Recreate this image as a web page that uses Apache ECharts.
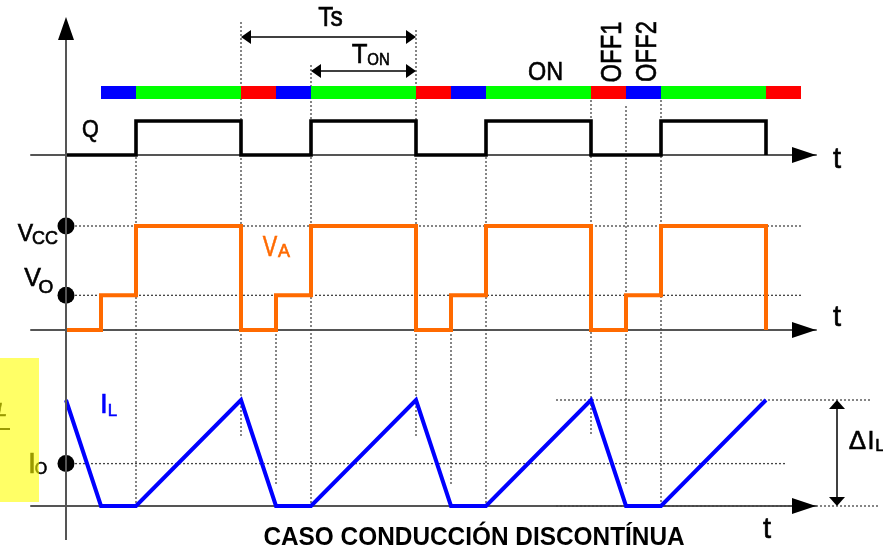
<!DOCTYPE html>
<html><head><meta charset="utf-8">
<script src="https://cdn.jsdelivr.net/npm/echarts@6/dist/echarts.min.js"></script>
<style>html,body{margin:0;padding:0;background:#fff}#c{width:883px;height:550px}</style>
</head><body><div id="c"></div>
<script>
// ---------------- data ----------------
const phaseStart = [1, 2, 5, 6, 7, 10, 11, 12, 15, 16, 17, 20];
const phaseEnd   = [2, 5, 6, 7, 10, 11, 12, 15, 16, 17, 20, 21];
const phaseState = ['OFF2','ON','OFF1','OFF2','ON','OFF1','OFF2','ON','OFF1','OFF2','ON','OFF1'];
const qTimes  = [0, 2, 5, 7, 10, 12, 15, 17, 20];
const qLevels = [0, 1, 0, 1, 0, 1, 0, 1, 0];
const vaTimes  = [0, 1, 2, 5, 6, 7, 10, 11, 12, 15, 16, 17, 20];
const vaLevels = [0, 1, 3, 0, 1, 3, 0, 1, 3, 0, 1, 3, 0];   // units of Vo (Vcc = 3)
const ilTimes  = [0, 1, 2, 5, 6, 7, 10, 11, 12, 15, 16, 17, 20];
const ilValues = [1, 0, 0, 1, 0, 0, 1, 0, 0, 1, 0, 0, 1];   // units of ΔIL
const vLevels  = [3, 1];      // Vcc, Vo
const ioLevel  = [0.4];       // Io
const tsSpan   = [5, 10];
const tonSpan  = [7, 10];
const guideTimes = [2, 5, 6, 7, 10, 11, 12, 15, 16, 17];

// ---------------- layout / style ----------------
const F = "'Liberation Sans', Arial, sans-serif";
const XMIN = -1, XMAX = 750 / 35;
const stateColor = { ON: '#00ff00', OFF1: '#ff0000', OFF2: '#0000ff' };
const guideExtent = {2:[157,506],5:[22,436],6:[330,485],7:[65,506],10:[30,436],11:[330,485],12:[157,506],15:[100,436],16:[106,485],17:[100,506]};
const GRID = (top, height) => ({ left: 31, width: 785, top, height });

const xAx = (gi, line) => ({ type: 'value', gridIndex: gi, min: XMIN, max: XMAX,
  axisLine: { show: line, onZero: false, lineStyle: { color: '#555', width: 2 } },
  axisTick: { show: false }, axisLabel: { show: false }, splitLine: { show: false } });
const yAx = (gi, max) => ({ type: 'value', gridIndex: gi, min: 0, max, show: false });
const pairs = (xs, ys) => xs.map((x, i) => [x, ys[i]]);

const chart = echarts.init(document.getElementById('c'));
chart.setOption({
  animation: false,
  grid: [GRID(86, 13), GRID(121, 34), GRID(226, 104), GRID(400, 106)],
  xAxis: [xAx(0, false), xAx(1, true), xAx(2, true), xAx(3, true)],
  yAxis: [yAx(0, 1), yAx(1, 1), yAx(2, 3), yAx(3, 1)],
  series: [
    { type: 'custom', xAxisIndex: 0, yAxisIndex: 0, clip: false,
      data: phaseStart.map((s, i) => [s, phaseEnd[i], i]),
      encode: { x: [0, 1] },
      renderItem: (params, api) => {
        const p0 = api.coord([api.value(0), 1]);
        const p1 = api.coord([api.value(1), 0]);
        return { type: 'rect', shape: { x: p0[0], y: p0[1], width: p1[0] - p0[0], height: p1[1] - p0[1] },
          style: { fill: stateColor[phaseState[api.value(2)]] } };
      } },
    { type: 'line', xAxisIndex: 1, yAxisIndex: 1, data: pairs(qTimes, qLevels), step: 'end', clip: false,
      symbol: 'none', z: 5, lineStyle: { color: '#000', width: 3.6, cap: 'butt', join: 'miter' } },
    { type: 'line', xAxisIndex: 2, yAxisIndex: 2, data: pairs(vaTimes, vaLevels), step: 'end', clip: false,
      symbol: 'none', z: 5, lineStyle: { color: '#ff6a00', width: 4, cap: 'butt', join: 'miter' } },
    { type: 'line', xAxisIndex: 3, yAxisIndex: 3, data: pairs(ilTimes, ilValues), clip: false,
      symbol: 'none', z: 5, lineStyle: { color: '#0000ff', width: 4, cap: 'butt', join: 'miter' } },
    { type: 'scatter', xAxisIndex: 2, yAxisIndex: 2, data: vLevels.map(v => [0, v]), symbolSize: 17,
      itemStyle: { color: '#000', opacity: 1 }, z: 6, clip: false },
    { type: 'scatter', xAxisIndex: 3, yAxisIndex: 3, data: ioLevel.map(v => [0, v]), symbolSize: 17,
      itemStyle: { color: '#000', opacity: 1 }, z: 6, clip: false }
  ]
});

// ---------------- decorations ----------------
const px = (gi, t, v) => chart.convertToPixel({ gridIndex: gi }, [t, v]);
const X = t => px(1, t, 0)[0];
const g = [];
const dotted = (x1, y1, x2, y2) => g.push({ type: 'line', z: 1, silent: true,
  shape: { x1, y1, x2, y2 }, style: { stroke: '#444', lineWidth: 1.3, lineDash: [2, 2] } });
const tri = pts => g.push({ type: 'polygon', z: 8, shape: { points: pts }, style: { fill: '#000' } });
const seg = (x1, y1, x2, y2, w, c) => g.push({ type: 'line', z: 7, shape: { x1, y1, x2, y2 }, style: { stroke: c || '#000', lineWidth: w || 1.5 } });
const txt = (text, x, y, size, o = {}) => g.push({ type: 'text', z: 20, x, y,
  scaleX: o.sx || 1, rotation: o.rot || 0,
  style: { text, x: 0, y: 0, font: (o.w || 'normal') + ' ' + (o.it ? 'italic ' : '') + size + 'px ' + F,
    fill: o.fill || '#000', stroke: o.w ? null : (o.fill || '#000'), lineWidth: o.w ? 0 : 0.6,
    align: 'center', verticalAlign: 'middle' } });

// vertical axis
const x0 = X(0);
seg(x0, 540, x0, 38, 2, '#555');
tri([[x0, 17], [x0 - 8, 40], [x0 + 8, 40]]);
// horizontal axis arrows
[1, 2, 3].forEach(gi => { const p = px(gi, XMAX, 0); tri([[p[0], p[1]], [p[0] - 24, p[1] - 8], [p[0] - 24, p[1] + 8]]); });

// vertical guides
guideTimes.forEach(t => { const e = guideExtent[t]; dotted(X(t), e[0], X(t), e[1]); });
// horizontal guides
const yVcc = px(2, 0, vLevels[0])[1], yVo = px(2, 0, vLevels[1])[1];
const yIo = px(3, 0, ioLevel[0])[1], yPk = px(3, 0, 1)[1], yI0 = px(3, 0, 0)[1];
dotted(75, yVcc, 802, yVcc);
dotted(75, yVo, 802, yVo);
dotted(75, yIo, 787, yIo);
dotted(556, yPk, 872, yPk);
dotted(556, yI0, 878, yI0);

// dimension arrows
const hArrow = (xa, xb, y) => { seg(xa + 4, y, xb - 4, y, 1.5);
  tri([[xa, y], [xa + 10, y - 7], [xa + 10, y + 7]]); tri([[xb, y], [xb - 10, y - 7], [xb - 10, y + 7]]); };
hArrow(X(tsSpan[0]), X(tsSpan[1]), 37);
hArrow(X(tonSpan[0]), X(tonSpan[1]), 71);
const xd = 837;
seg(xd, yPk + 4, xd, yI0 - 4, 1.5);
tri([[xd, yPk], [xd - 8, yPk + 9], [xd + 8, yPk + 9]]);
tri([[xd, yI0], [xd - 8, yI0 - 9], [xd + 8, yI0 - 9]]);

// texts
txt('Q', 90.5, 130.5, 24, { sx: 0.9 });
txt('Ts', 330.5, 18.5, 28, { sx: 0.88 });
txt('T', 359.5, 55, 28, { sx: 0.92 });
txt('ON', 378.5, 60, 17, { sx: 0.88 });
txt('ON', 545.5, 72.5, 26, { sx: 0.9 });
txt('OFF1', 613, 52, 29, { sx: 0.82, rot: Math.PI / 2 });
txt('OFF2', 648, 51.5, 29, { sx: 0.82, rot: Math.PI / 2 });
txt('t', 837, 159.5, 29);
txt('t', 837, 317.5, 29);
txt('t', 767, 530, 29);
txt('V', 25.5, 235, 23);
txt('CC', 45, 239.5, 18);
txt('V', 32.5, 279, 25);
txt('O', 46, 287.5, 19);
txt('V', 270, 247.5, 29, { sx: 0.75, fill: '#ff6a00' });
txt('A', 284, 252.5, 18, { fill: '#ff6a00' });
txt('I', 104, 405, 28, { fill: '#0000ff' });
txt('L', 112.5, 411, 17, { fill: '#0000ff' });
txt('I', 32, 464.5, 29);
txt('O', 41, 469.5, 16);
txt('Δ', 857.5, 442, 26);
txt('I', 871, 442, 25);
txt('L', 880, 446, 17);
txt('CASO CONDUCCIÓN DISCONTÍNUA', 474, 537.5, 26.5, { w: 'bold', sx: 0.92 });
// clipped fragment + highlight box
txt('L', 2, 411, 18, { it: true });
seg(0, 429, 10, 429, 2);
g.push({ type: 'rect', z: 50, shape: { x: 0, y: 358, width: 39, height: 144 }, style: { fill: 'rgba(255,255,0,0.6)' } });

chart.setOption({ graphic: g });
</script></body></html>
